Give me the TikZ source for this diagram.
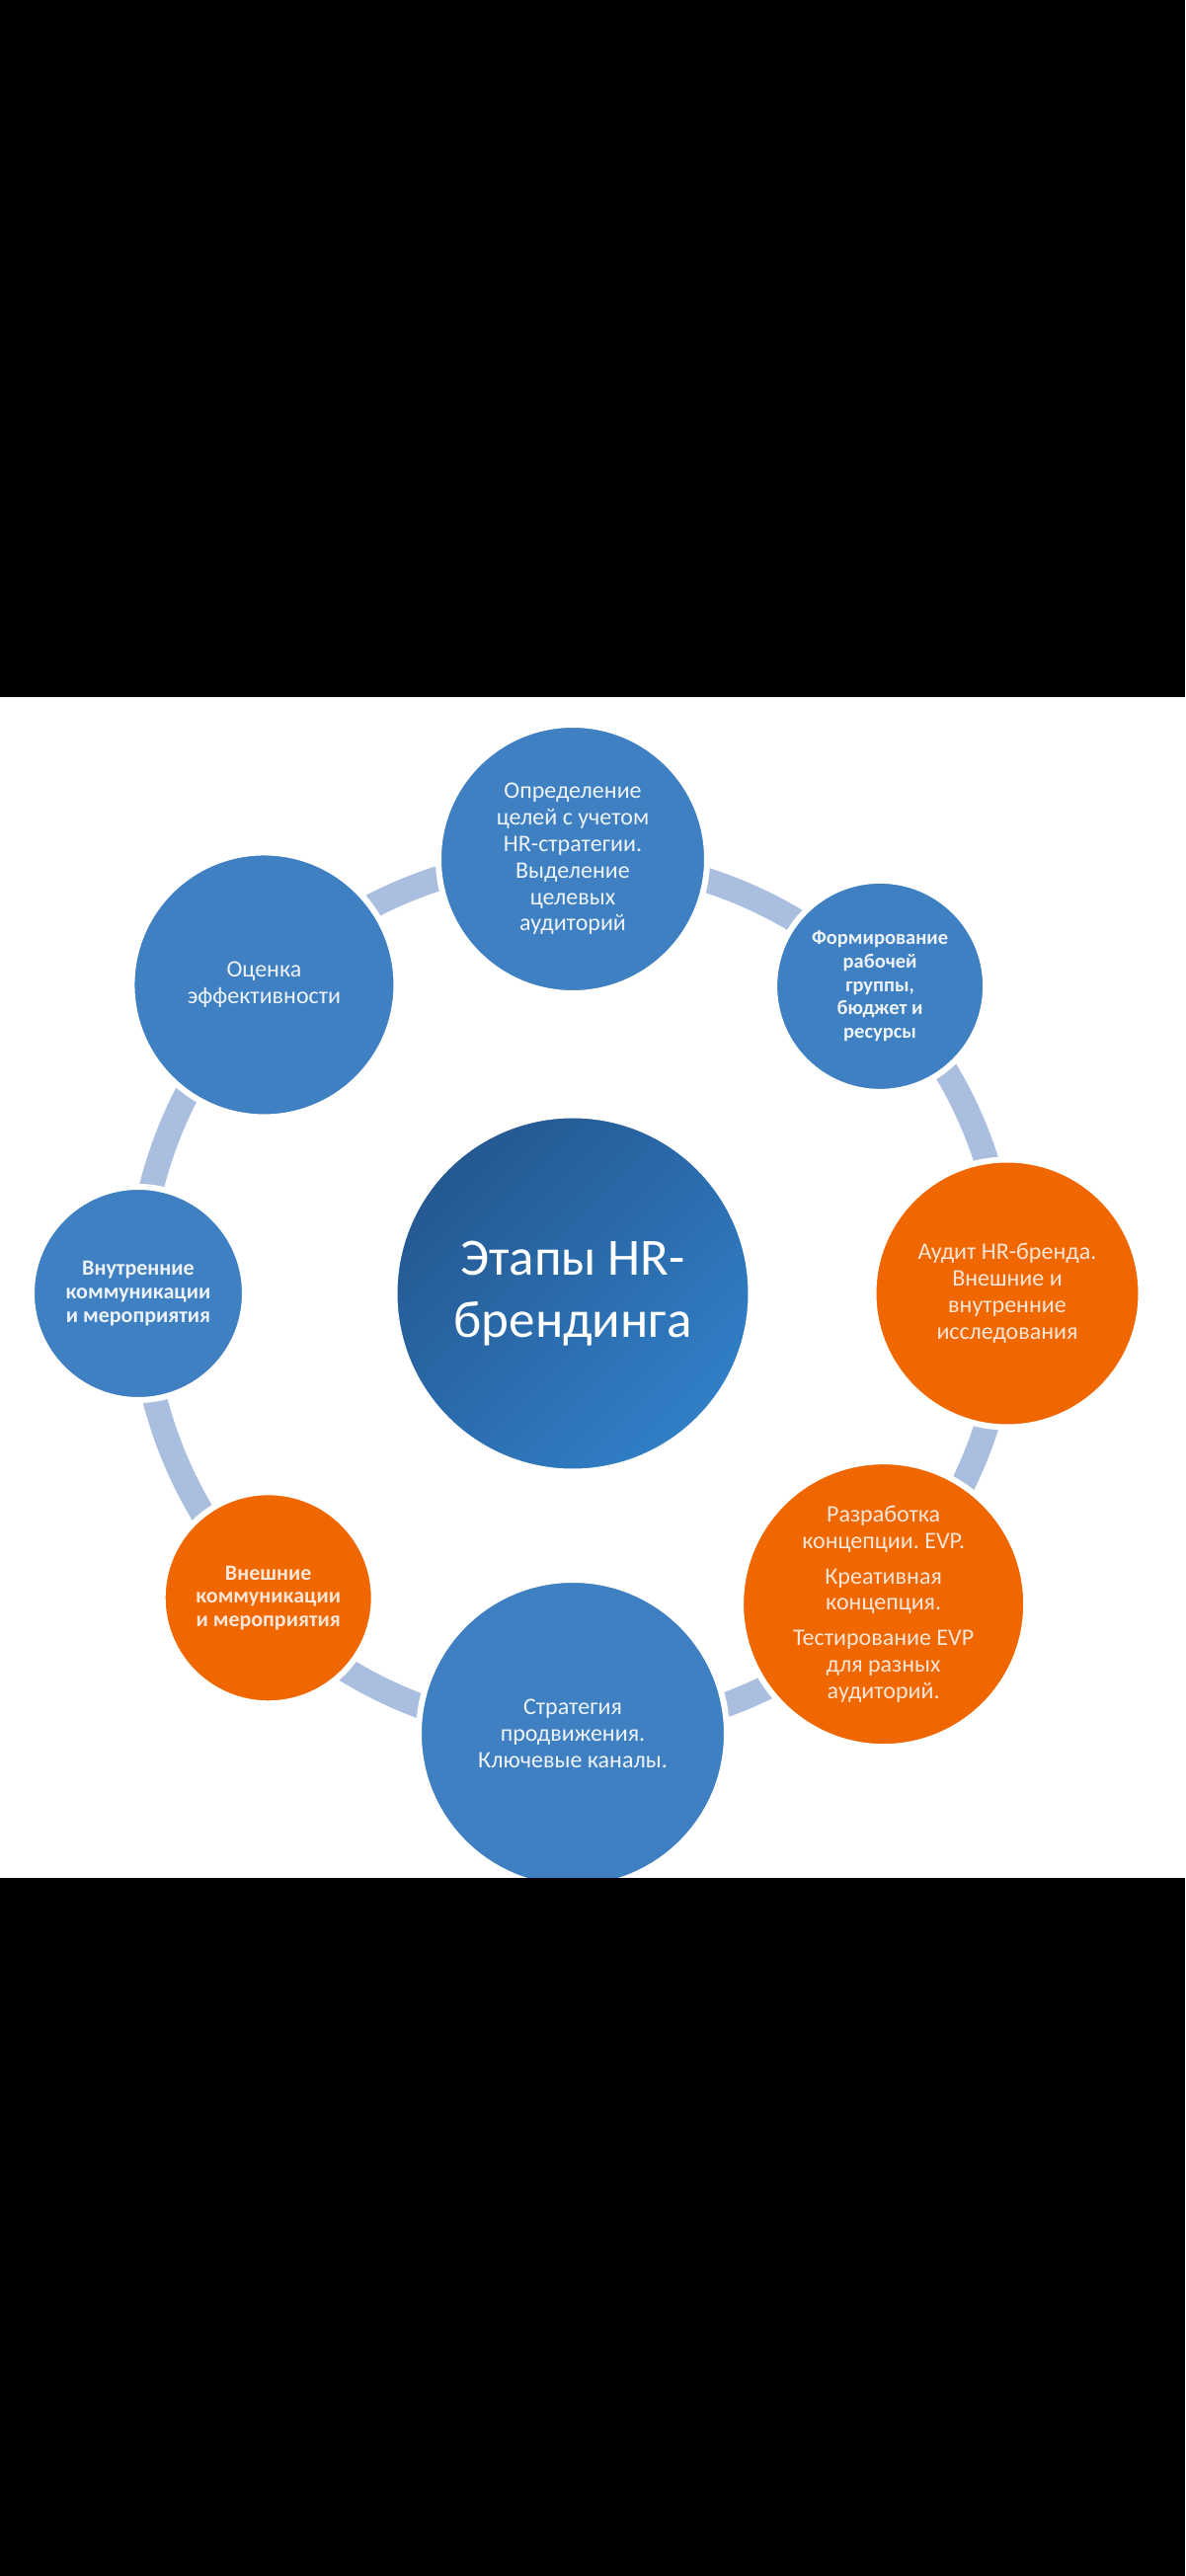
\documentclass[tikz,border=0pt]{standalone}
\usepackage{fontspec}
\setmainfont{Carlito}
\frenchspacing
\definecolor{StageBlue}{HTML}{3E80C1}
\definecolor{StageOrange}{HTML}{F06700}
\definecolor{RingClr}{HTML}{AABFDF}
\definecolor{HubDark}{HTML}{245891}
\definecolor{HubLight}{HTML}{317FC7}
\definecolor{BlueText}{HTML}{EEF3FA}
\definecolor{OrangeText}{HTML}{FCE6D8}

\pgfdeclarelayer{paper}
\pgfdeclarelayer{ring}
\pgfsetlayers{paper,ring,main}

\tikzset{
  stage/.style={circle,draw=white,line width=6pt,align=center,inner sep=0pt,
    font=\fontsize{24}{26.8}\selectfont},
  bluestage/.style={stage,fill=StageBlue,text=BlueText},
  orangestage/.style={stage,fill=StageOrange,text=OrangeText},
  smalltext/.style={font=\fontsize{22}{23.6}\selectfont\bfseries},
  link/.style={RingClr,line width=25pt},
}

\begin{document}
\begin{tikzpicture}[x=1pt,y=1pt]
\useasboundingbox (-580,-1299) rectangle (620,1310);

\begin{pgfonlayer}{paper}
\fill[white] (-580,-1299) rectangle (620,1310);
\end{pgfonlayer}

% centre
\node[circle,draw=white,line width=6pt,minimum size=361pt,
  top color=HubDark,bottom color=HubLight,shading angle=45,text=white,align=center,
  font=\fontsize{53}{63}\selectfont] (hub) at (0,0) {Этапы HR-\\брендинга};

% stages round the ring
\node[bluestage,minimum size=272pt] (aim) at (90:440)
  {Определение\\целей с учетом\\HR-стратегии.\\Выделение\\целевых\\аудиторий};
\node[bluestage,minimum size=214pt,font=\fontsize{20.5}{23.7}\selectfont\bfseries] (team) at (45:440)
  {Формирование\\рабочей\\группы,\\бюджет и\\ресурсы};
\node[orangestage,minimum size=271pt] (audit) at (0:440)
  {Аудит HR-бренда.\\Внешние и\\внутренние\\исследования};
\node[orangestage,minimum size=289pt] (evp) at (-45:445)
  {Разработка\\концепции. EVP.\\[9pt]Креативная\\концепция.\\[9pt]Тестирование EVP\\для разных\\аудиторий.};
\node[bluestage,minimum size=312pt] (strategy) at (-90:446)
  {Стратегия\\продвижения.\\Ключевые каналы.};
\node[orangestage,smalltext,minimum size=214pt] (ext) at (-135:436)
  {Внешние\\коммуникации\\и мероприятия};
\node[bluestage,smalltext,minimum size=216pt] (int) at (180:440)
  {Внутренние\\коммуникации\\и мероприятия};
\node[bluestage,minimum size=268pt] (eval) at (135:442)
  {Оценка\\эффективности};

\begin{pgfonlayer}{ring}
\foreach \a/\b/\t in {aim/team/90,team/audit/45,audit/evp/0,evp/strategy/-45,
  strategy/ext/-90,ext/int/-135,int/eval/180,eval/aim/135}
  \draw[link] (\a.center) arc[start angle=\t,delta angle=-45,radius=440];
\end{pgfonlayer}

% black bands of the screenshot
\fill[black] (-580,604) rectangle (620,1310);
\fill[black] (-580,-1299) rectangle (620,-592);

\end{tikzpicture}
\end{document}
